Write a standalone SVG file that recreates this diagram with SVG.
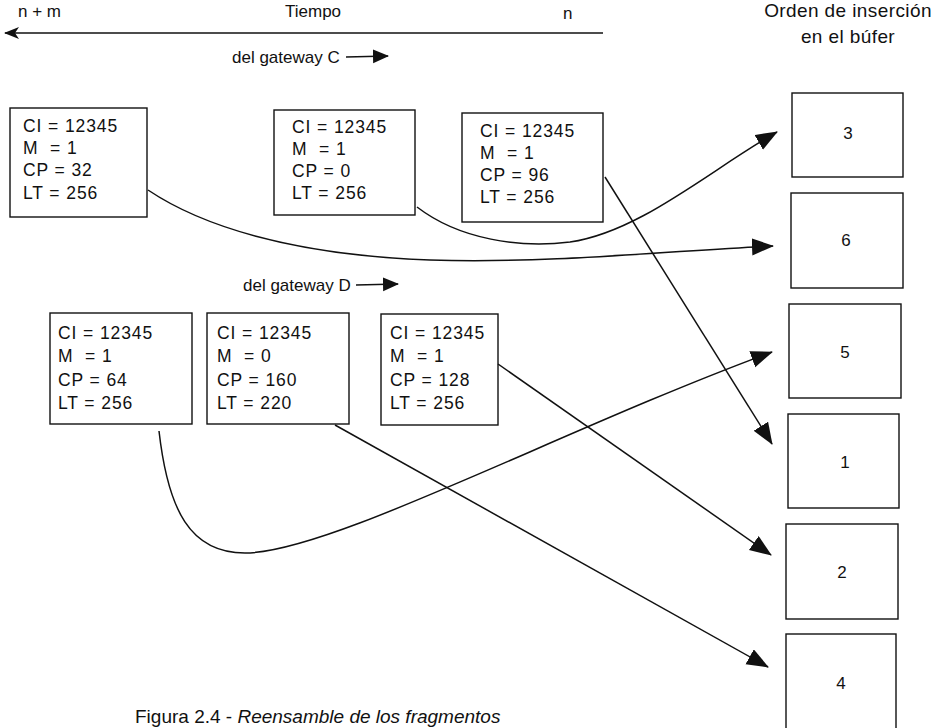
<svg xmlns="http://www.w3.org/2000/svg" width="945" height="728" viewBox="0 0 945 728">
<style>
text{font-family:"Liberation Sans",Arial,sans-serif;fill:#111;}
.t{font-size:17px;}
.h{font-size:19px;text-anchor:middle;letter-spacing:0.4px;}
.b{font-size:17.5px;letter-spacing:0.9px;white-space:pre;}
.n{font-size:17px;text-anchor:middle;}
.box{fill:#fff;stroke:#111;stroke-width:1.4;}
.c{fill:none;stroke:#111;stroke-width:1.5;}
</style>
<defs>
<marker id="ah" markerUnits="userSpaceOnUse" markerWidth="24" markerHeight="20" refX="21" refY="8.5" orient="auto">
<path d="M0,0 L22,8.5 L0,17 Z" fill="#111"/>
</marker>
<marker id="sh" markerUnits="userSpaceOnUse" markerWidth="18" markerHeight="16" refX="15" refY="7" orient="auto">
<path d="M0,0 L16,7 L0,14 Z" fill="#111"/>
</marker>
<marker id="lh" markerUnits="userSpaceOnUse" markerWidth="16" markerHeight="14" refX="14" refY="6" orient="auto">
<path d="M0,0 L15,6 L0,12 L4,6 Z" fill="#111"/>
</marker>
</defs>

<g id="header">
<text class="t" x="18" y="17">n + m</text>
<text class="t" x="285" y="17">Tiempo</text>
<text class="t" x="563" y="19">n</text>
<text class="h" x="848" y="17">Orden de inserción</text>
<text class="h" x="848" y="43">en el búfer</text>
</g>

<g id="labels">
<text class="t" x="232" y="63">del gateway C</text>
<text class="t" x="243" y="291">del gateway D</text>
</g>

<g id="frag-A">
<rect class="box" x="10" y="108" width="137" height="109"/>
<text class="b" x="23" y="132">CI = 12345</text>
<text class="b" x="23" y="154">M  = 1</text>
<text class="b" x="23" y="176">CP = 32</text>
<text class="b" x="23" y="199">LT = 256</text>
</g>
<g id="frag-B">
<rect class="box" x="274" y="110" width="141" height="105"/>
<text class="b" x="292" y="133">CI = 12345</text>
<text class="b" x="292" y="155">M  = 1</text>
<text class="b" x="292" y="177">CP = 0</text>
<text class="b" x="292" y="199">LT = 256</text>
</g>
<g id="frag-C">
<rect class="box" x="462" y="113" width="141" height="109"/>
<text class="b" x="480" y="137">CI = 12345</text>
<text class="b" x="480" y="159">M  = 1</text>
<text class="b" x="480" y="181">CP = 96</text>
<text class="b" x="480" y="203">LT = 256</text>
</g>
<g id="frag-D">
<rect class="box" x="50" y="313" width="142" height="111"/>
<text class="b" x="58" y="339">CI = 12345</text>
<text class="b" x="58" y="362">M  = 1</text>
<text class="b" x="58" y="386">CP = 64</text>
<text class="b" x="58" y="409">LT = 256</text>
</g>
<g id="frag-E">
<rect class="box" x="207" y="313" width="142" height="111"/>
<text class="b" x="217" y="339">CI = 12345</text>
<text class="b" x="217" y="362">M  = 0</text>
<text class="b" x="217" y="386">CP = 160</text>
<text class="b" x="217" y="409">LT = 220</text>
</g>
<g id="frag-F">
<rect class="box" x="381" y="314" width="117" height="111"/>
<text class="b" x="390" y="339">CI = 12345</text>
<text class="b" x="390" y="362">M  = 1</text>
<text class="b" x="390" y="386">CP = 128</text>
<text class="b" x="390" y="409">LT = 256</text>
</g>

<g id="buf-3"><rect class="box" x="792" y="93" width="111" height="84"/><text class="n" x="848" y="139">3</text></g>
<g id="buf-6"><rect class="box" x="791" y="193" width="112" height="95"/><text class="n" x="846" y="246">6</text></g>
<g id="buf-5"><rect class="box" x="789" y="304" width="112" height="94"/><text class="n" x="845" y="358">5</text></g>
<g id="buf-1"><rect class="box" x="788" y="414" width="111" height="94"/><text class="n" x="845" y="468">1</text></g>
<g id="buf-2"><rect class="box" x="786" y="524" width="112" height="95"/><text class="n" x="842" y="578">2</text></g>
<g id="buf-4"><rect class="box" x="786" y="634" width="110" height="100"/><text class="n" x="841" y="689">4</text></g>

<g id="connectors">
<line class="c" x1="603" y1="33" x2="5" y2="33" marker-end="url(#lh)"/>
<line class="c" x1="346" y1="57" x2="388" y2="56" marker-end="url(#sh)"/>
<line class="c" x1="356" y1="285" x2="398" y2="284" marker-end="url(#sh)"/>
<path class="c" d="M148,190 C200,225 290,255 430,260 C550,264 680,250 773,246" marker-end="url(#ah)"/>
<path class="c" d="M417,207 C460,240 520,248 570,242 C640,232 710,170 777,132" marker-end="url(#ah)"/>
<path class="c" d="M605,177 L772,444" marker-end="url(#ah)"/>
<path class="c" d="M159,431 C168,510 190,553 245,553 C330,553 560,430 772,352" marker-end="url(#ah)"/>
<path class="c" d="M335,425 L768,667" marker-end="url(#ah)"/>
<path class="c" d="M498,364 L771,555" marker-end="url(#ah)"/>
</g>

<g id="caption">
<text x="135" y="723" style="font-size:19px">Figura 2.4 - <tspan font-style="italic">Reensamble de los fragmentos</tspan></text>
</g>
</svg>
